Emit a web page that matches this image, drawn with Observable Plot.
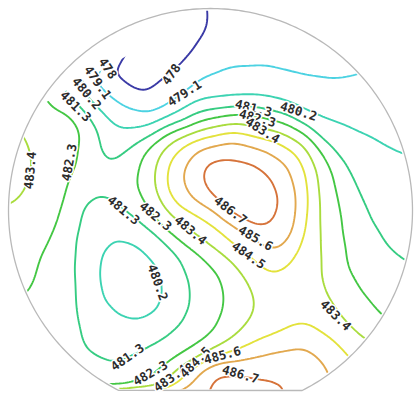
<!DOCTYPE html>
<html>
<head>
<meta charset="utf-8">
<script src="https://cdn.jsdelivr.net/npm/d3@7"></script>
<script src="https://cdn.jsdelivr.net/npm/@observablehq/plot@0.6"></script>
<style>
  html, body { margin: 0; padding: 0; background: #fff; }
  svg { display: block; }
</style>
</head>
<body>
<div id="chart"></div>
<script>
// Contour levels of the thickness map and their line colours.
const levels = [478, 479.1, 480.2, 481.3, 482.3, 483.4, 484.5, 485.6, 486.7];
const levelColors = ["#3a3aa6", "#4cd2e2", "#3cd3b2", "#36cc82", "#44c744", "#a9dc3e", "#e3e23c", "#e2a84e", "#d6733a"];

// Wafer sites (x, y in mm from the wafer centre) sitting on each isoline.
const sites478 = [[-1,97],[-3.5,87.5],[-10,78.5],[-17.5,70],[-25,62.5],[-32.5,57],[-39,59.5],[-45,64],[-52,71]];
const sites479_1 = [[-59,66.5],[-52.5,59],[-46.5,54.5],[-40,51],[-32.5,48.5],[-24,50.5],[-15,57],[-3.5,66.5],[8.5,71],[25,71.5],[45,66.5],[61.5,64],[74,66.5],[82.5,69]];
const sites480_2 = [[-66,61],[-59,53.5],[-53.5,48],[-49,43],[-42.5,40.5],[-32.5,41.5],[-17.5,48.5],[-5,55],[8.5,56],[25,56.5],[40,53],[55,46],[70,40.5],[82.5,35],[96,28],
  [-50,-11],[-56,-20],[-57.5,-32.5],[-55,-45],[-46.5,-53.5],[-35,-56.5],[-25,-51],[-22,-40],[-25,-27.5],[-31.5,-20],[-38.5,-14],[-45,-11]];
const sites481_3 = [[-73,56],[-62.5,48.5],[-57.5,41.5],[-56,32.5],[-54,26],[-49,24],[-42,29.5],[-33.5,35.5],[-20,43.5],[-5,50],[8.5,52],[20,52.5],[37.5,48.5],[50,41],[58.5,32.5],[65,25],[70,16.5],[74,7.5],[79,-4],[86.5,-16.5],[97.5,-26.5],
  [-64,2.5],[-57.5,9],[-51,7],[-44,1],[-35,-6],[-25,-13.5],[-16.5,-22.5],[-11.5,-35],[-11,-47.5],[-16,-57.5],[-25,-65],[-33.5,-69],[-42.5,-74],[-50,-80],[-57,-77],[-62,-67.5],[-65,-55],[-66,-41.5],[-67,-26],[-66.5,-11.5]];
const sites482_3 = [[-81,55],[-71,51],[-65,45],[-63,37.5],[-65.5,27.5],[-69.5,17.5],[-72.5,5],[-76,-6],[-81,-18],[-86,-30],[-90,-41],
  [-35,-88],[-27.5,-82.5],[-17.5,-75],[-7.5,-69],[1,-62.5],[6,-52.5],[7.5,-42.5],[5,-32.5],[-2.5,-24],[-12.5,-17.5],[-22.5,-10],[-29,-2.5],[-33.5,6],[-36,15],[-35,24],[-31,31],[-25,36],[-15,40],[-2.5,45],[10,47.5],[23.5,47],[37.5,43.5],[47.5,38.5],[55,30],[60,21],[62.5,10],[65,-2.5],[66,-15],[67.5,-27.5],[75,-41.5],[85,-53.5]];
const sites483_4 = [[-95,41.5],[-91,34],[-89,22.5],[-92,11],[-97.5,3.5],
  [-26,-91],[-22,-84],[-15,-78],[-5,-72.5],[5,-67.5],[14,-61.5],[20,-54],[21.5,-45],[17.5,-34],[11,-26],[1,-18.5],[-10,-10],[-19,-2.5],[-25,6],[-27.5,15],[-26,25],[-22,32],[-15,36.5],[-2.5,41],[12.5,43.5],[26,41],[40,36.5],[48.5,30],[52.5,20],[53.5,7.5],[54,-5],[55,-17.5],[56,-30],[60,-45],[67.5,-56],[77.5,-65]];
const sites484_5 = [[-22.5,17.5],[-21,25],[-14,32.5],[-5,36.5],[11.5,39.5],[31.5,35],[42.5,29],[47.5,20],[49,7.5],[47.5,-5],[44,-16.5],[37.5,-27.5],[28.5,-31],[20,-23],[11,-16],[2.5,-8],[-6.5,-2.5],[-17.5,2.5],[-22,9],
  [-19,-90.5],[-15,-84],[-7.5,-78.5],[2.5,-73.5],[12.5,-70],[25,-64.5],[40,-59],[50,-57.5],[60,-63.5],[67.5,-71],[71.5,-76]];
const sites485_6 = [[-14,15],[-12.5,22.5],[-8.5,28.5],[-3.5,31.5],[11.5,35],[28.5,30],[39,22.5],[43,10],[43.5,-2.5],[41.5,-13.5],[36.5,-21],[30,-20],[22.5,-15],[13.5,-9],[1,0],[-9,5.5],
  [-11,-90.5],[-8.5,-84],[-3.5,-79],[7.5,-75.5],[20,-73.5],[33.5,-70],[46.5,-67.5],[55,-73.5],[60,-81]];
const sites486_7 = [[1.5,6.5],[-3.5,12.5],[-5,19],[-1.5,25],[8.5,26.5],[21.5,23.5],[30,16.5],[34.5,6],[33,-2.5],[28,-8.5],[20,-7.5],[11,-2],
  [-4,-91],[-1.5,-85],[2.5,-80],[15,-81],[30,-84],[42.5,-88.5]];

// Other sites: highs, lows, saddles and the bands between isolines (x, y, thickness).
const otherSites = [
  [-22.5,82.5,477.2],[-37.5,70,477.6],[-10,92.5,477.7],[-30,90,477.3],
  [10,97.5,478.3],[30,92.5,478.6],[60,77.5,478.9],[15,85,478.6],
  [75,52.5,479.7],[35,62.5,479.7],[95,50,479.6],
  [85,17.5,480.7],[92.5,5,480.8],
  [-40,-35,479.7],
  [-52.5,16,481.6],[-45,14,481.9],[-41,20,481.8],[-49,35,480.8],
  [-100,22.5,483.9],[-80,30,482.9],[-85,-2.5,482.8],[-92.5,-20,482.5],
  [16,10,488.0],[7.5,15,487.6],[24,8,487.7],[20,-1,487.4],[27,3,487.3],[4,19,487.3],[12,4,487.5],
  [36,-42.5,484.0],[45,-37.5,483.9],[27.5,-40,483.8],
  [12.5,-90,487.1],[27.5,-91,487.0],
  [69,-45,482.9],[77.5,-15,481.8],[92.5,-40,481.8],[55,-87.5,486.0],[75,-71,484.0],
  [-80,-45,481.8],[-70,-72.5,481.5],[-45,-86.5,481.6]
];

const isolineSites = [sites478, sites479_1, sites480_2, sites481_3, sites482_3, sites483_4, sites484_5, sites485_6, sites486_7];

// Contour labels: level, then where each one sits along its line.
const labelLevels = [478, 479.1, 480.2, 481.3, 478, 479.1, 481.3, 480.2, 482.3, 483.4, 483.4, 482.3, 481.3,
  482.3, 483.4, 486.7, 485.6, 484.5, 480.2, 483.4, 481.3, 482.3, 483.4, 484.5, 485.6, 486.7];
const labelPlacements = [
  [-51.5,71,56],[-56.5,64,55],[-62,58.5,50],[-67.5,52,45],[-19.5,68,-55],[-13,58.5,-33],
  [21.5,51,14],[44,49.5,17],[23.5,46,15],[26,40,32],[-90,20,-85],[-70.5,24,-80],[-43.5,0,40],
  [-27.5,-3,40],[-10,-10,40],[10,0,37],[22.5,-14,30],[19,-22.5,35],[-26.5,-36,70],[62.5,-52.5,45],
  [-41.5,-73.5,-35],[-30,-81.5,-30],[-20,-84,-35],[-7.5,-76,-45],[6,-72.5,-15],[15,-82,16]
];

// Wafer geometry (mm): outline radius, flat position, and the measured area.
const waferRadius = 101;
const flatY = -90;
const measuredRadius = 100;
const measuredFlatY = -89.5;
const measuredArcDegrees = [148.3, 451.4]; // the arc between these angles; a straight chord closes it

const xDomain = [-105, 102.5];
const yDomain = [-93.5, 105];
const W = 415, H = 397;

const sites = [];
isolineSites.forEach((list, i) => list.forEach(([x, y]) => sites.push({x, y, v: levels[i]})));
otherSites.forEach(([x, y, v]) => sites.push({x, y, v}));

const labels = labelLevels.map((v, i) => ({
  x: labelPlacements[i][0], y: labelPlacements[i][1], angle: labelPlacements[i][2], text: String(v)
}));

// Wafer outline with its flat.
const flatHalfAngle = Math.acos(-flatY / waferRadius) * 180 / Math.PI;
const outline = d3.range(-90 + flatHalfAngle, 270 - flatHalfAngle + 0.001, 1).map(a => ({
  x: waferRadius * Math.cos(a * Math.PI / 180),
  y: waferRadius * Math.sin(a * Math.PI / 180)
}));

const plot = Plot.plot({
  width: W,
  height: H,
  margin: 0,
  x: {domain: xDomain, axis: null},
  y: {domain: yDomain, axis: null},
  color: {type: "ordinal", domain: levels, range: levelColors},
  marks: [
    Plot.contour(sites, {
      x: "x", y: "y", stroke: "v", fill: "none",
      thresholds: levels, interpolate: "barycentric", blur: 3,
      strokeWidth: 1.9
    }),
    Plot.line(outline, {x: "x", y: "y", curve: "linear-closed", stroke: "#b9b9b9", strokeWidth: 1.3}),
    Plot.text(labels, {
      x: "x", y: "y", text: "text", rotate: "angle",
      fill: "#2c2c2c", stroke: "white", strokeWidth: 3, paintOrder: "stroke",
      fontFamily: "DejaVu Sans Mono", fontWeight: "bold", fontSize: 12.5
    })
  ]
});

// Clip the isolines to the measured area of the wafer.
const sx = d3.scaleLinear(xDomain, [0, W]);
const sy = d3.scaleLinear(yDomain, [H, 0]);
const clipPoints = d3.range(measuredArcDegrees[0], measuredArcDegrees[1], 1).concat([measuredArcDegrees[1]]).map(a => {
  const r = a * Math.PI / 180;
  return [sx(measuredRadius * Math.cos(r)), sy(Math.max(measuredFlatY, measuredRadius * Math.sin(r)))];
});
const ns = "http://www.w3.org/2000/svg";
const defs = document.createElementNS(ns, "defs");
const clip = document.createElementNS(ns, "clipPath");
clip.setAttribute("id", "measured-area");
const clipPath = document.createElementNS(ns, "path");
clipPath.setAttribute("d", "M" + clipPoints.map(p => p.join(",")).join("L") + "Z");
clip.appendChild(clipPath);
defs.appendChild(clip);
plot.insertBefore(defs, plot.firstChild);
const contourGroup = plot.querySelector('g[aria-label="contour"]');
if (contourGroup) contourGroup.setAttribute("clip-path", "url(#measured-area)");

document.getElementById("chart").appendChild(plot);
</script>
</body>
</html>
